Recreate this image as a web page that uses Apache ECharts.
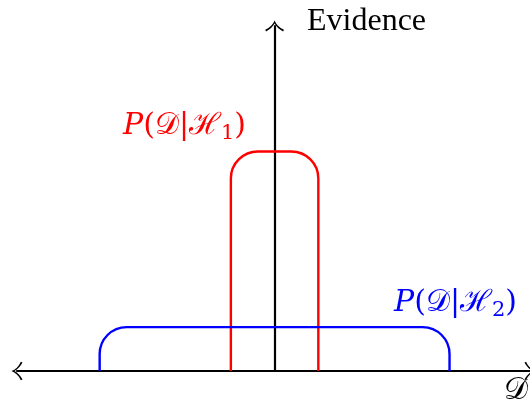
<!DOCTYPE html>
<html>
<head>
<meta charset="utf-8">
<script src="https://cdn.jsdelivr.net/npm/echarts@6/dist/echarts.min.js"></script>
<style>
    html, body { margin: 0; padding: 0; background: #fff; }
    #chart { width: 530px; height: 406px; }
</style>
</head>
<body>
<div id="chart"></div>
<script>
// boxes in axis units: left edge, right edge, height
const boxNames = ['H1', 'H2'];
const boxLeft = [-1, -4];
const boxRight = [1, 4];
const boxHeight = [5, 1];
const boxColors = ['#ff0000', '#0000ff'];

const xRange = [-5.89, 5.84];
const yRange = [0, 7.86];

// open latex-like arrow head, pointing up
const arrowPath = 'path://M0 0 C1.5 4 5 8 10 10 L9.2 11.8 C5 9.6 2 6.6 0 3.2 C-2 6.6 -5 9.6 -9.2 11.8 L-10 10 C-5 8 -1.5 4 0 0 Z';

const cornerRadius = 27;

function renderBox(params, api) {
    const bottom = api.coord([api.value(0), 0]);
    const top = api.coord([api.value(1), api.value(2)]);
    const r = cornerRadius;
    const k = 0.5523 * r;
    const x0 = bottom[0], yb = bottom[1], x1 = top[0], yt = top[1];
    const d = [
        'M', x0, yb,
        'L', x0, yt + r,
        'C', x0, yt + r - k, x0 + r - k, yt, x0 + r, yt,
        'L', x1 - r, yt,
        'C', x1 - r + k, yt, x1, yt + r - k, x1, yt + r,
        'L', x1, yb
    ].join(' ');
    return {
        type: 'path',
        shape: { pathData: d },
        style: { fill: 'none', stroke: api.visual('color'), lineWidth: 2.4 },
    };
}

// math label: P(D|H_n)
function mathRich(color) {
    const base = { fontFamily: 'DejaVu Serif', fontSize: 30, color: color, lineHeight: 36 };
    return {
        it: Object.assign({}, base, { fontStyle: 'italic' }),
        rm: Object.assign({}, base),
        sc: Object.assign({}, base),
        sub: Object.assign({}, base, { fontSize: 21, lineHeight: 24, verticalAlign: 'bottom' }),
    };
}

function mathLabel(n) {
    return '{it|P}{rm|(}{sc|𝒟}{rm||}{sc|ℋ}{sub|' + n + '}{rm|)}';
}

const chart = echarts.init(document.getElementById('chart'));

const option = {
    animation: false,
    grid: { left: 17, right: 0, top: 26, bottom: 35 },
    xAxis: {
        type: 'value',
        min: xRange[0],
        max: xRange[1],
        axisLine: {
            onZero: true,
            symbol: [arrowPath, arrowPath],
            symbolSize: [20, 11],
            lineStyle: { color: '#000', width: 2.2 },
        },
        axisTick: { show: false },
        axisLabel: { show: false },
        splitLine: { show: false },
    },
    yAxis: {
        type: 'value',
        min: yRange[0],
        max: yRange[1],
        axisLine: {
            onZero: true,
            symbol: ['none', arrowPath],
            symbolSize: [20, 11],
            lineStyle: { color: '#000', width: 2.2 },
        },
        axisTick: { show: false },
        axisLabel: { show: false },
        splitLine: { show: false },
    },
    series: boxNames.map((name, i) => ({
        name: name,
        type: 'custom',
        z: 1,
        clip: false,
        itemStyle: { color: boxColors[i] },
        renderItem: renderBox,
        data: [[boxLeft[i], boxRight[i], boxHeight[i]]],
    })),
    graphic: [
        {
            type: 'text', left: 307, top: 6,
            style: { text: 'Evidence', fontFamily: '"Liberation Serif", serif', fontSize: 32, fill: '#000' },
        },
        {
            type: 'text', left: 123, top: 111,
            style: { text: mathLabel(1), rich: mathRich('#ff0000'), fill: '#ff0000' },
        },
        {
            type: 'text', left: 394, top: 288,
            style: { text: mathLabel(2), rich: mathRich('#0000ff'), fill: '#0000ff' },
        },
        {
            type: 'text', left: 504, top: 376,
            style: { text: '{sc|𝒟}', rich: mathRich('#000'), fill: '#000' },
        },
    ],
};

chart.setOption(option);
</script>
</body>
</html>
